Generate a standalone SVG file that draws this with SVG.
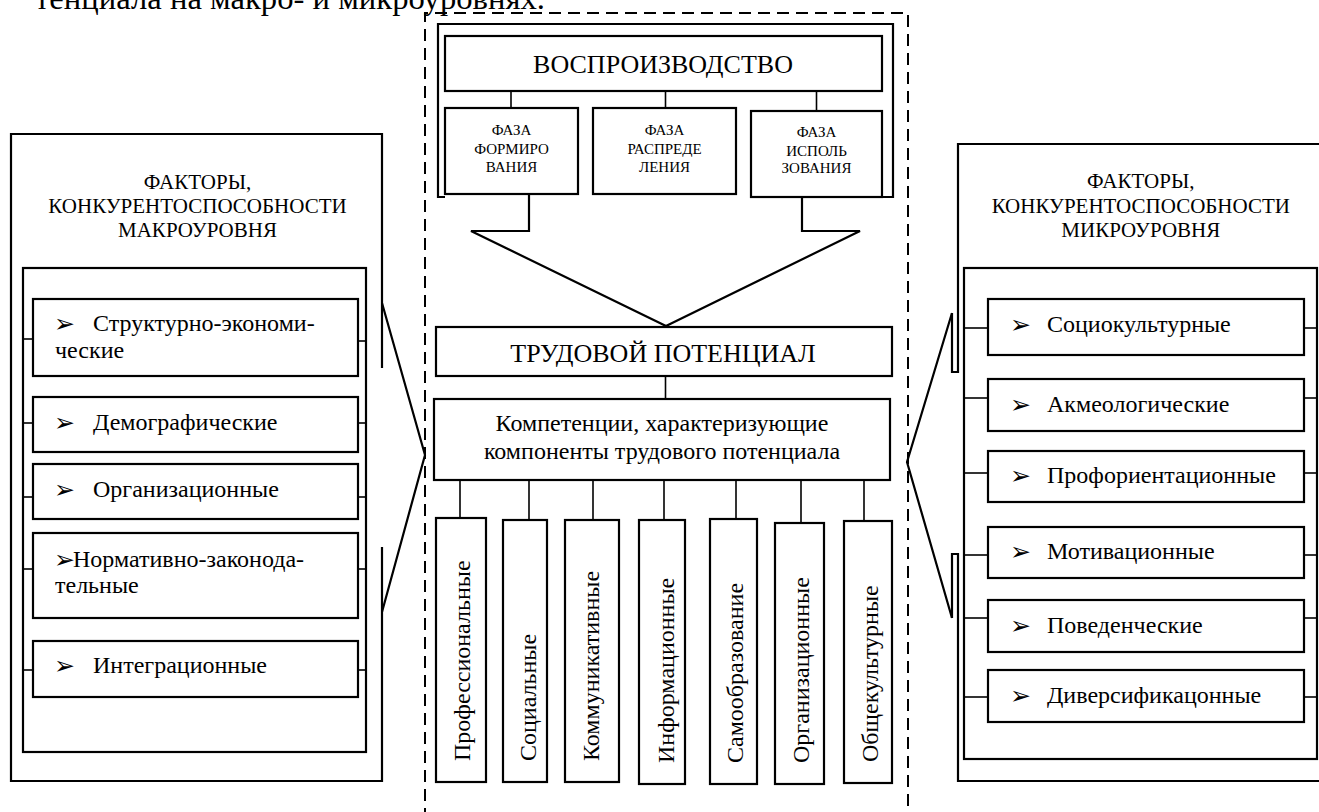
<svg xmlns="http://www.w3.org/2000/svg" width="1319" height="812" viewBox="0 0 1319 812">
<style>
.t{font-family:"Liberation Serif","Times New Roman",serif;fill:#000}
.c{text-anchor:middle}
.box{fill:#fff;stroke:#000;stroke-width:2.2}
.ln{fill:none;stroke:#000;stroke-width:1.6}
.bl{fill:none;stroke:#000;stroke-width:2.2}
.dash{fill:none;stroke:#000;stroke-width:2;stroke-dasharray:12 7}
.ar{font-family:"DejaVu Sans",sans-serif;font-size:25px}
.it{font-size:24px}
.hd{font-size:21px}
.ph{font-size:15px}
.vt{font-size:24px}
</style>
<rect width="1319" height="812" fill="#fff"/>
<text class="t" x="35" y="9" font-size="32" textLength="510" lengthAdjust="spacingAndGlyphs">тенциала на макро- и микроуровнях.</text>

<g id="frame">
<path class="dash" d="M425,820 V13 H908 V820"/>
</g>

<g id="connectors">
<path class="bl" d="M445,197 H438 V24 H893 V197 H882"/>
<line class="ln" x1="511" y1="91" x2="511" y2="108"/>
<line class="ln" x1="665.5" y1="91" x2="665.5" y2="108"/>
<line class="ln" x1="816.5" y1="91" x2="816.5" y2="111"/>
<path class="bl" d="M529,194 V231 H471 L666,326 L860,231 H802 V197"/>
<line class="ln" x1="665.5" y1="376" x2="665.5" y2="399"/>
<line class="ln" x1="460" y1="480" x2="460" y2="518"/>
<line class="ln" x1="529" y1="480" x2="529" y2="520"/>
<line class="ln" x1="593" y1="480" x2="593" y2="520"/>
<line class="ln" x1="664" y1="480" x2="664" y2="520"/>
<line class="ln" x1="736" y1="480" x2="736" y2="519"/>
<line class="ln" x1="801" y1="480" x2="801" y2="523"/>
<line class="ln" x1="864" y1="480" x2="864" y2="521"/>
<line class="ln" x1="23" y1="339" x2="33" y2="339"/><line class="ln" x1="358" y1="341" x2="366" y2="341"/>
<line class="ln" x1="23" y1="423" x2="33" y2="423"/><line class="ln" x1="358" y1="423" x2="366" y2="423"/>
<line class="ln" x1="23" y1="497" x2="33" y2="497"/><line class="ln" x1="358" y1="497" x2="366" y2="497"/>
<line class="ln" x1="23" y1="569" x2="33" y2="569"/><line class="ln" x1="358" y1="569" x2="366" y2="569"/>
<line class="ln" x1="23" y1="670" x2="33" y2="670"/><line class="ln" x1="358" y1="670" x2="366" y2="670"/>
<line class="ln" x1="964" y1="328" x2="988" y2="328"/><line class="ln" x1="1304" y1="328" x2="1317" y2="328"/>
<line class="ln" x1="964" y1="398" x2="988" y2="398"/><line class="ln" x1="1304" y1="398" x2="1317" y2="398"/>
<line class="ln" x1="964" y1="473" x2="988" y2="473"/><line class="ln" x1="1304" y1="473" x2="1317" y2="473"/>
<line class="ln" x1="964" y1="555" x2="988" y2="555"/><line class="ln" x1="1304" y1="555" x2="1317" y2="555"/>
<line class="ln" x1="964" y1="618" x2="988" y2="618"/><line class="ln" x1="1304" y1="618" x2="1317" y2="618"/>
<line class="ln" x1="964" y1="697" x2="988" y2="697"/><line class="ln" x1="1304" y1="697" x2="1317" y2="697"/>
<path class="bl" d="M382,303 L425,455 L382,612"/>
<path class="bl" d="M952,313 L907,462 L952,618"/>
</g>

<g id="reproduction">
<rect class="box" x="445" y="36" width="437" height="55"/>
<text class="t c" x="663" y="73" font-size="26">ВОСПРОИЗВОДСТВО</text>
</g>
<g id="phase1">
<rect class="box" x="445" y="108" width="133" height="86"/>
<text class="t c ph" x="511.5" y="135">ФАЗА</text>
<text class="t c ph" x="511.5" y="154">ФОРМИРО</text>
<text class="t c ph" x="511.5" y="172">ВАНИЯ</text>
</g>
<g id="phase2">
<rect class="box" x="593" y="108" width="143" height="86"/>
<text class="t c ph" x="664.5" y="135">ФАЗА</text>
<text class="t c ph" x="664.5" y="154">РАСПРЕДЕ</text>
<text class="t c ph" x="664.5" y="172">ЛЕНИЯ</text>
</g>
<g id="phase3">
<rect class="box" x="751" y="111" width="131" height="86"/>
<text class="t c ph" x="816.5" y="137">ФАЗА</text>
<text class="t c ph" x="816.5" y="156">ИСПОЛЬ</text>
<text class="t c ph" x="816.5" y="173">ЗОВАНИЯ</text>
</g>

<g id="labor-potential">
<rect class="box" x="436" y="327" width="456" height="49"/>
<text class="t c" x="663" y="362" font-size="26">ТРУДОВОЙ ПОТЕНЦИАЛ</text>
</g>
<g id="competencies">
<rect class="box" x="434" y="399" width="456" height="81"/>
<text class="t c it" x="662" y="431">Компетенции, характеризующие</text>
<text class="t c it" x="662" y="459">компоненты трудового потенциала</text>
</g>

<g id="v1"><rect class="box" x="436" y="518" width="50" height="264"/>
<text class="t vt" transform="translate(469.7,761) rotate(-90)">Профессиональные</text></g>
<g id="v2"><rect class="box" x="503" y="520" width="44" height="262"/>
<text class="t vt" transform="translate(536.3,761) rotate(-90)">Социальные</text></g>
<g id="v3"><rect class="box" x="565" y="520" width="54" height="262"/>
<text class="t vt" transform="translate(598.7,761) rotate(-90)">Коммуникативные</text></g>
<g id="v4"><rect class="box" x="639" y="520" width="46" height="264"/>
<text class="t vt" transform="translate(673.7,763) rotate(-90)">Информационные</text></g>
<g id="v5"><rect class="box" x="710" y="519" width="47" height="265"/>
<text class="t vt" transform="translate(743,763) rotate(-90)">Самообразование</text></g>
<g id="v6"><rect class="box" x="775" y="523" width="49" height="261"/>
<text class="t vt" transform="translate(808.7,763) rotate(-90)">Организационные</text></g>
<g id="v7"><rect class="box" x="844" y="521" width="48" height="262"/>
<text class="t vt" transform="translate(878,762) rotate(-90)">Общекультурные</text></g>

<g id="macro-panel">
<path class="bl" d="M382,368 V134 H11 V781 H382 V547"/>
<rect class="bl" x="23" y="268" width="343" height="484"/>
<text class="t c hd" x="197.5" y="189">ФАКТОРЫ,</text>
<text class="t c hd" x="197.5" y="213">КОНКУРЕНТОСПОСОБНОСТИ</text>
<text class="t c hd" x="197.5" y="237">МАКРОУРОВНЯ</text>
</g>
<g id="macro1"><rect class="box" x="33" y="299" width="325" height="77"/>
<text class="ar" x="54" y="332">➢</text><text class="t it" x="93" y="331">Структурно-экономи-</text>
<text class="t it" x="55" y="358">ческие</text></g>
<g id="macro2"><rect class="box" x="33" y="397" width="325" height="55"/>
<text class="ar" x="54" y="431">➢</text><text class="t it" x="93" y="430">Демографические</text></g>
<g id="macro3"><rect class="box" x="33" y="464" width="325" height="55"/>
<text class="ar" x="54" y="498">➢</text><text class="t it" x="93" y="497">Организационные</text></g>
<g id="macro4"><rect class="box" x="33" y="533" width="325" height="85"/>
<text class="ar" x="54" y="568">➢</text><text class="t it" x="73" y="567">Нормативно-законода-</text>
<text class="t it" x="55" y="593">тельные</text></g>
<g id="macro5"><rect class="box" x="33" y="641" width="325" height="56"/>
<text class="ar" x="54" y="674">➢</text><text class="t it" x="93" y="673">Интеграционные</text></g>

<g id="micro-panel">
<path class="bl" d="M1330,144 H958 V372 H952 V313"/>
<path class="bl" d="M952,618 V554 H958 V781 H1330"/>
<rect class="bl" x="964" y="268" width="353" height="491"/>
<text class="t c hd" x="1140.8" y="188">ФАКТОРЫ,</text>
<text class="t c hd" x="1140.8" y="213">КОНКУРЕНТОСПОСОБНОСТИ</text>
<text class="t c hd" x="1140.8" y="237">МИКРОУРОВНЯ</text>
</g>
<g id="micro1"><rect class="box" x="988" y="299" width="316" height="56"/>
<text class="ar" x="1010" y="333">➢</text><text class="t it" x="1047" y="332">Социокультурные</text></g>
<g id="micro2"><rect class="box" x="988" y="379" width="316" height="52"/>
<text class="ar" x="1010" y="413">➢</text><text class="t it" x="1047" y="412">Акмеологические</text></g>
<g id="micro3"><rect class="box" x="988" y="451" width="316" height="51"/>
<text class="ar" x="1010" y="484">➢</text><text class="t it" x="1047" y="483">Профориентационные</text></g>
<g id="micro4"><rect class="box" x="988" y="527" width="316" height="51"/>
<text class="ar" x="1010" y="560">➢</text><text class="t it" x="1047" y="559">Мотивационные</text></g>
<g id="micro5"><rect class="box" x="988" y="600" width="316" height="52"/>
<text class="ar" x="1010" y="634">➢</text><text class="t it" x="1047" y="633">Поведенческие</text></g>
<g id="micro6"><rect class="box" x="988" y="670" width="316" height="52"/>
<text class="ar" x="1010" y="704">➢</text><text class="t it" x="1047" y="703">Диверсификацонные</text></g>
</svg>
